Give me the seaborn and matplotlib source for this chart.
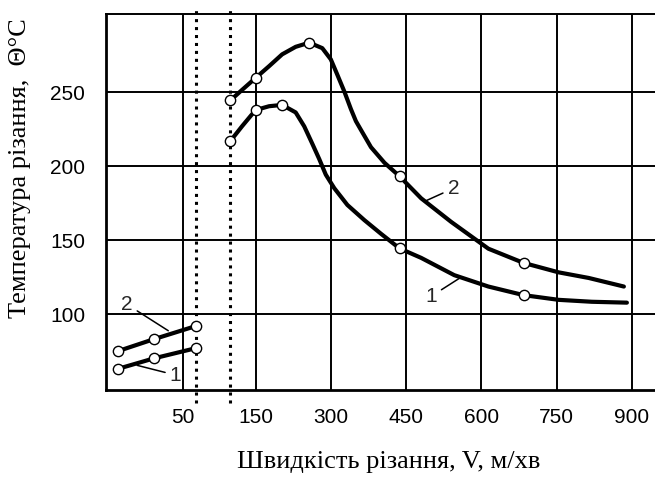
"""
Температура різання в залежності від швидкості різання (криві 1 і 2).
"""
import numpy as np
import matplotlib
matplotlib.use("Agg")
import matplotlib.pyplot as plt
import seaborn as sns

# ліва ділянка (низькі швидкості)
v_low = [8, 31, 64]
t1_low = [63, 70, 77]
t2_low = [75, 83, 92]

# крива 1
v1 = [100, 123, 150, 177, 203, 230, 247, 263, 277, 290, 307, 333, 367, 400, 437, 480, 546, 614,
      684, 754, 820, 890]
t1 = [217.1, 227, 238, 240.6, 241.5, 236.4, 227, 215.3, 204.8, 194.3, 185.1, 173.8, 163.5, 154.3,
      144.4, 138, 126.3, 118.6, 112.8, 109.6, 108.3, 107.7]
m1_v = [100, 150, 203, 437, 684]
m1_t = [217.1, 238, 241.5, 144.4, 112.8]

# крива 2
v2 = [100, 123, 150, 177, 203, 230, 257, 283, 300, 313, 327, 340, 350, 360, 380, 407, 437, 480,
      540, 614, 684, 754, 814, 884]
t2 = [244.6, 251.6, 259.7, 267.7, 275.7, 280.8, 283.6, 279.9, 272.3, 261.9, 250.5, 238.7, 230.5,
      224.6, 212.9, 202.3, 193.2, 178.3, 162.3, 144.2, 134.6, 128.2, 124.4, 118.6]
m2_v = [100, 150, 257, 437, 684]
m2_t = [244.6, 259.7, 283.6, 193.2, 134.6]

x_ticks = [50, 150, 300, 450, 600, 750, 900]
y_ticks = [100, 150, 200, 250]
breaks = [63, 100]

# кусково-лінійна шкала осі x (розрив між 50 і 150)
knots_v = [0, 50, 100, 950]
knots_u = [0, 77, 124, 549]


def fwd(v):
    return np.interp(v, knots_v, knots_u)


def inv(u):
    return np.interp(u, knots_u, knots_v)


sns.set_theme(style="white")
plt.rcParams["font.family"] = ["Liberation Sans", "DejaVu Sans"]

fig = plt.figure(figsize=(6.55, 4.87), dpi=100)
ax = fig.add_axes([106 / 655, 97 / 487, 551 / 655, 376 / 487])
ax.set_xscale("function", functions=(fwd, inv))
ax.set_xlim(0, 950)
ax.set_ylim(48.6, 303)

lw_curve = 3.0
for xs, ys in [(v_low, t1_low), (v_low, t2_low), (v1, t1), (v2, t2)]:
    sns.lineplot(x=xs, y=ys, sort=False, estimator=None, color="black", lw=lw_curve,
                 solid_joinstyle="round", ax=ax, zorder=3)

mk = dict(color="white", edgecolor="black", linewidth=1.0, s=55, zorder=4, ax=ax, clip_on=False)
sns.scatterplot(x=v_low, y=t1_low, **mk)
sns.scatterplot(x=v_low, y=t2_low, **mk)
sns.scatterplot(x=m1_v, y=m1_t, **mk)
sns.scatterplot(x=m2_v, y=m2_t, **mk)

# пунктирні лінії розриву
ax.vlines(breaks, 39.8, 307.7, colors="black", linestyles=[(0, (1, 1.6))], lw=2.2,
          clip_on=False, zorder=2)

# позначки кривих
ann = dict(fontsize=15, ha="center", va="center",
           arrowprops=dict(arrowstyle="-", color="black", lw=1.1, shrinkA=1, shrinkB=0))
ax.annotate("2", xy=(490, 176.7), xytext=(544, 185), **ann)
ax.annotate("1", xy=(560, 125), xytext=(500, 112), **ann)
ax.annotate("2", xy=(40.3, 88.7), xytext=(13.6, 106.5), **ann)
ax.annotate("1", xy=(20.1, 65.3), xytext=(45, 58.7), **ann)

ax.set_xticks(x_ticks)
ax.set_xticklabels([str(t) for t in x_ticks])
ax.set_yticks(y_ticks)
ax.set_yticklabels([str(t) for t in y_ticks])
ax.tick_params(axis="x", length=0, pad=13, labelsize=15, labelcolor="black")
ax.tick_params(axis="y", length=0, pad=15, labelsize=15, labelcolor="black")
ax.grid(True, color="black", lw=1.4)
ax.set_axisbelow(True)

for side in ["left", "bottom"]:
    ax.spines[side].set_color("black")
    ax.spines[side].set_linewidth(2.0)
ax.spines["top"].set_color("black")
ax.spines["top"].set_linewidth(1.4)
ax.spines["right"].set_visible(False)

ax.set_xlabel("Швидкість різання, V, м/хв", family="Liberation Serif", fontsize=19, color="black")
ax.xaxis.set_label_coords((388 - 106) / 549, (390 - 462) / 376)
ax.xaxis.label.set_va("center")
ax.set_ylabel("Температура різання,  Θ°C", family="Liberation Serif", fontsize=19, color="black")
ax.yaxis.set_label_coords((20 - 106) / 549, (390 - 168) / 376)
ax.yaxis.label.set_va("center")

fig.savefig("out.png", dpi=100)
